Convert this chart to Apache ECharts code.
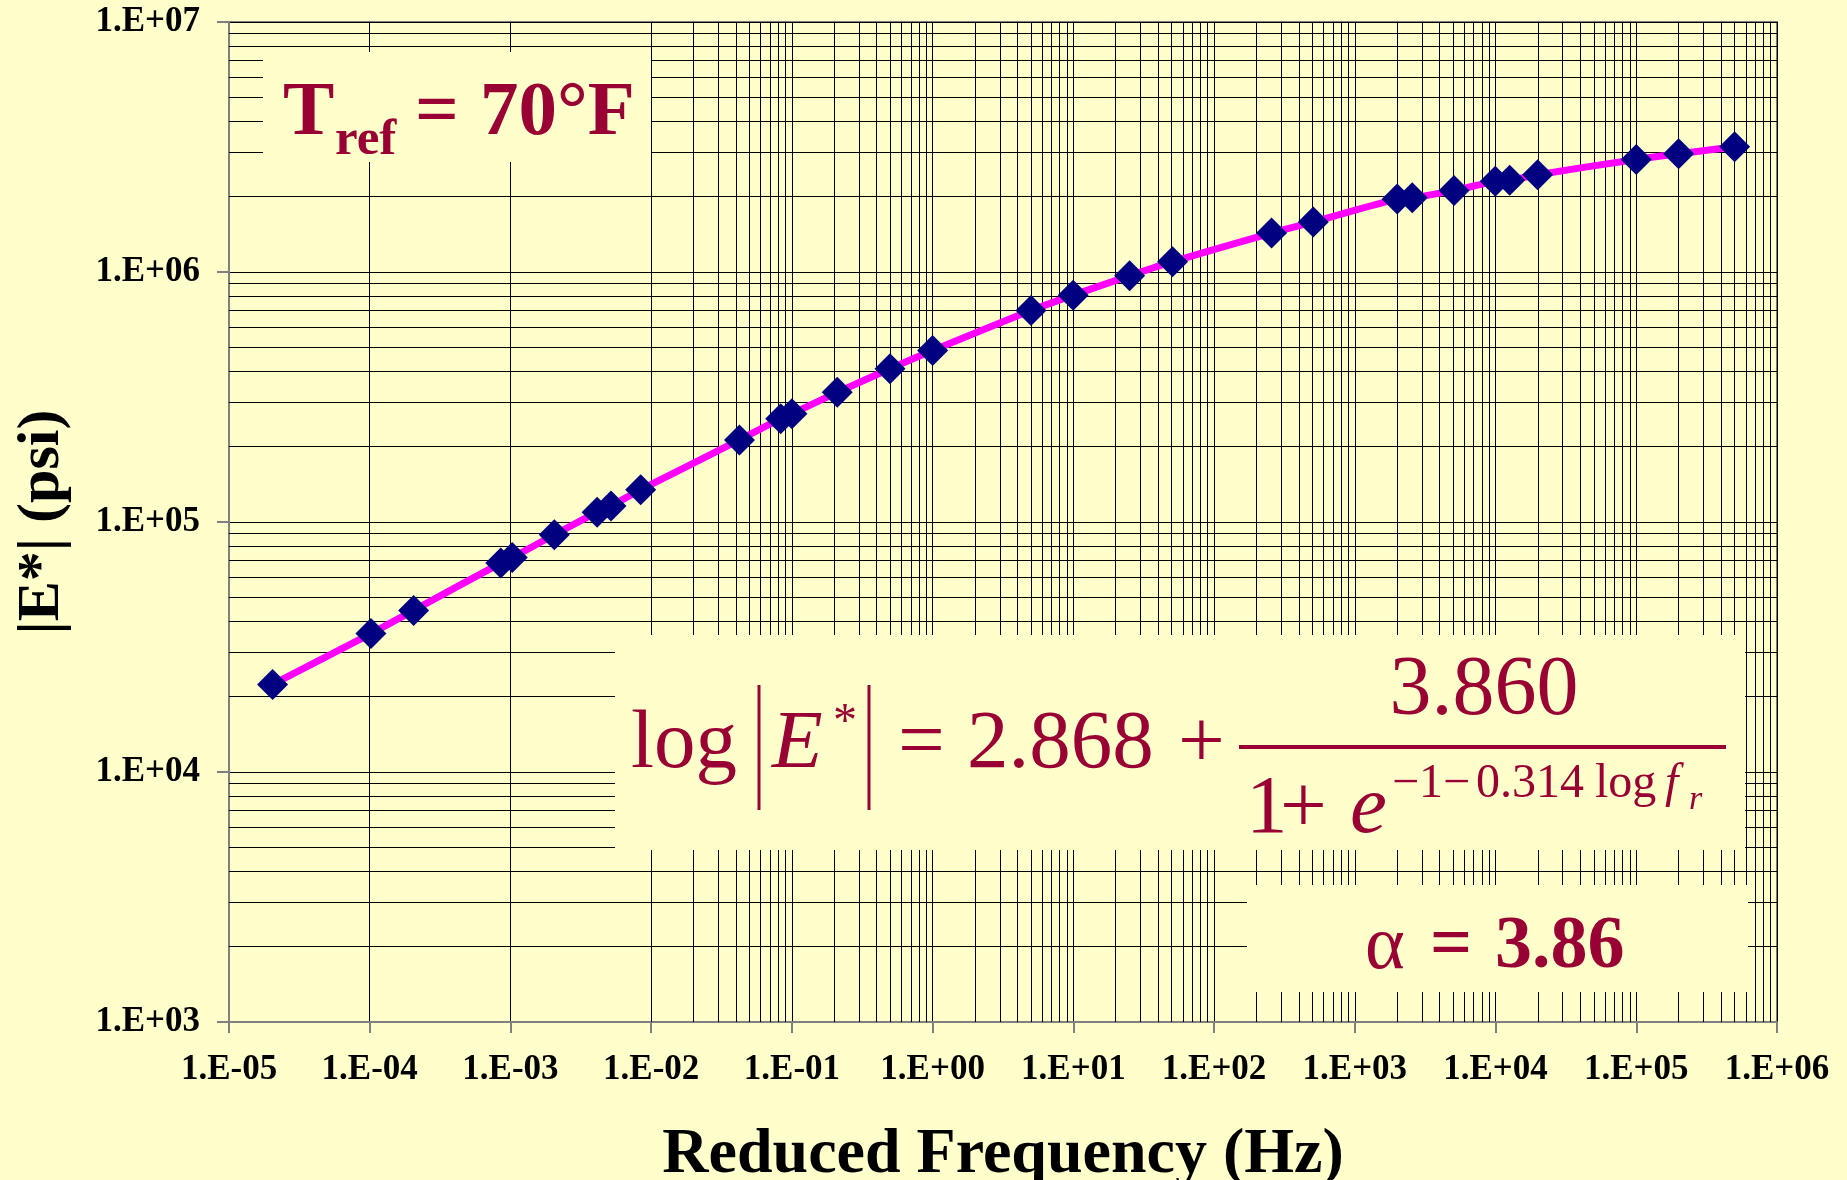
<!DOCTYPE html>
<html>
<head>
<meta charset="utf-8">
<script src="https://cdn.jsdelivr.net/npm/echarts@6/dist/echarts.min.js"></script>
<style>
  html, body { margin: 0; padding: 0; background: #ffffcc; }
  #main { width: 1847px; height: 1180px; }
</style>
</head>
<body>
<div id="main"></div>
<script>
// measured data (reduced frequency in Hz, |E*| in psi)
const freqHz = [
  2.04e-5, 1.02e-4, 2.05e-4, 8.53e-4, 1.03e-3, 2.05e-3, 4.13e-3, 5.18e-3, 8.42e-3,
  0.0424, 0.0832, 0.1, 0.21, 0.498, 1.0, 5.0, 9.97, 25.1, 50.7,
  256, 507, 2000, 2560, 5070, 9950, 12600, 19900, 1.0e5, 2.0e5, 5.0e5
];
const modulusPsi = [
  22400, 35800, 44300, 68500, 72100, 88900, 109500, 116000, 134600,
  213000, 259000, 271000, 330000, 410000, 485000, 701000, 808000, 966000, 1100000,
  1432000, 1585000, 1960000, 1980000, 2120000, 2305000, 2330000, 2450000, 2820000, 2970000, 3170000
];

// axis ranges (decade exponents) and minor grid multipliers
const xExpRange = [-5, 6];
const yExpRange = [3, 7];
const minorSteps = [2, 3, 4, 5, 6, 7, 8, 9];

const crimson = '#990033';
const serif = 'Liberation Serif';

function sciLabel(v) {
  var e = Math.round(Math.log10(v));
  var s = Math.abs(e) < 10 ? '0' + Math.abs(e) : '' + Math.abs(e);
  return '1.E' + (e < 0 ? '-' : '+') + s;
}

var xMinor = [], yMinor = [];
for (var e = xExpRange[0]; e < xExpRange[1]; e++) {
  minorSteps.forEach(function (m) { xMinor.push({ xAxis: m * Math.pow(10, e) }); });
}
for (var e2 = yExpRange[0]; e2 < yExpRange[1]; e2++) {
  minorSteps.forEach(function (m) { yMinor.push({ yAxis: m * Math.pow(10, e2) }); });
}

var myChart = echarts.init(document.getElementById('main'));

// text helper for the annotation boxes
function txt(x, y, s, size, opt) {
  opt = opt || {};
  return {
    type: 'text', x: x, y: y + 5, z: 101, silent: true,
    style: {
      text: s, fill: crimson,
      font: (opt.italic ? 'italic ' : '') + (opt.bold ? 'bold ' : '') + size + 'px "' + serif + '"',
      textAlign: opt.align || 'left', textVerticalAlign: 'middle'
    }
  };
}
function box(x, y, w, h) {
  return { type: 'rect', z: 100, silent: true, shape: { x: x, y: y, width: w, height: h }, style: { fill: '#ffffcc' } };
}
function bar(x1, y1, x2, y2, w) {
  return { type: 'line', z: 101, silent: true, shape: { x1: x1, y1: y1, x2: x2, y2: y2 }, style: { stroke: crimson, lineWidth: w } };
}

myChart.setOption({
  backgroundColor: '#ffffcc',
  animation: false,
  grid: {
    left: 229, right: 70, top: 22, bottom: 158,
    outerBoundsMode: 'none',
    show: true, borderColor: '#808080', borderWidth: 2, backgroundColor: 'transparent'
  },
  xAxis: {
    type: 'log', logBase: 10,
    min: Math.pow(10, xExpRange[0]), max: Math.pow(10, xExpRange[1]), interval: 1,
    name: 'Reduced Frequency (Hz)', nameLocation: 'middle', nameGap: 101,
    nameTextStyle: { fontFamily: serif, fontWeight: 'bold', fontSize: 64, color: '#000' },
    axisLine: { lineStyle: { color: '#808080', width: 2 } },
    axisTick: { inside: false, length: 11, lineStyle: { color: '#808080', width: 2 } },
    axisLabel: { formatter: sciLabel, margin: 30, fontFamily: serif, fontWeight: 'bold', fontSize: 35, color: '#000' },
    splitLine: { show: true, lineStyle: { color: '#000', width: 1 } }
  },
  yAxis: {
    type: 'log', logBase: 10,
    min: Math.pow(10, yExpRange[0]), max: Math.pow(10, yExpRange[1]), interval: 1,
    name: '|E*| (psi)', nameLocation: 'middle', nameGap: 157,
    nameTextStyle: { fontFamily: serif, fontWeight: 'bold', fontSize: 60, color: '#000' },
    axisLine: { lineStyle: { color: '#808080', width: 2 } },
    axisTick: { inside: false, length: 12, lineStyle: { color: '#808080', width: 2 } },
    axisLabel: { formatter: sciLabel, margin: 29, fontFamily: serif, fontWeight: 'bold', fontSize: 35, color: '#000' },
    splitLine: { show: true, lineStyle: { color: '#000', width: 1 } }
  },
  series: [
    {
      // minor log-paper grid
      type: 'line', data: [], z: 1, silent: true,
      markLine: {
        z: 1, silent: true, symbol: 'none', animation: false,
        label: { show: false },
        lineStyle: { color: '#000', width: 1, type: 'solid' },
        emphasis: { disabled: true },
        data: xMinor.concat(yMinor)
      }
    },
    {
      name: '|E*|',
      type: 'line', z: 3,
      data: freqHz.map(function (f, i) { return [f, modulusPsi[i]]; }),
      smooth: 0.3,
      symbol: 'diamond', symbolSize: 31,
      itemStyle: { color: '#000080' },
      lineStyle: { color: '#ff00ff', width: 7 }
    }
  ],
  graphic: [
    // Tref box
    box(263, 52, 388, 110),
    txt(283, 135 - 26, 'T', 77, { bold: true }),
    txt(335, 153 - 17, 'ref', 51, { bold: true }),
    txt(415, 135 - 26, '=', 77, { bold: true }),
    txt(480, 135 - 26, '70°F', 77, { bold: true }),
    // master curve equation box
    box(615, 635, 1130, 215),
    txt(631, 768 - 28, 'log', 83),
    bar(759, 685, 759, 810, 3),
    txt(772, 768 - 28, 'E', 83, { italic: true }),
    txt(833, 718, '*', 48),
    bar(869, 685, 869, 810, 3),
    txt(898, 768 - 28, '=', 83),
    txt(967, 768 - 28, '2.868', 83),
    txt(1178, 768 - 28, '+', 83),
    txt(1484, 715 - 28, '3.860', 84, { align: 'center' }),
    { type: 'rect', z: 101, silent: true, shape: { x: 1239, y: 745, width: 487, height: 4 }, style: { fill: crimson } },
    txt(1246, 833 - 28, '1', 83),
    txt(1280, 833 - 28, '+', 83),
    txt(1350, 833 - 28, 'e', 83, { italic: true }),
    txt(1392, 795 - 16, '\u22121\u2212', 48),
    txt(1476, 795 - 16, '0.314', 48),
    txt(1595, 795 - 16, 'log', 48),
    txt(1665, 795 - 16, 'f', 48, { italic: true }),
    txt(1689, 807 - 12, 'r', 34, { italic: true }),
    // alpha box
    box(1247, 885, 501, 107),
    txt(1365, 968 - 25, '\u03b1', 76),
    txt(1430, 968 - 25, '=', 74, { bold: true }),
    txt(1495, 968 - 25, '3.86', 74, { bold: true })
  ]
});
</script>
</body>
</html>
